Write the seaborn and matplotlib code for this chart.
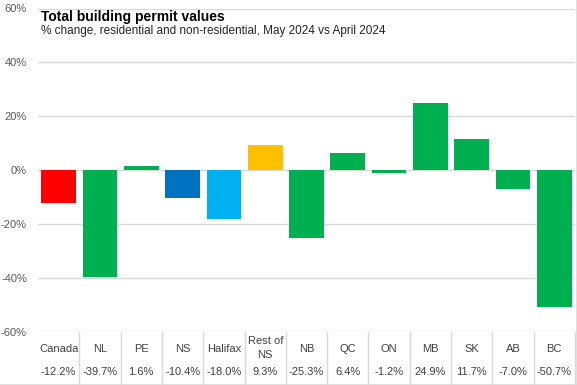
import matplotlib
matplotlib.use("Agg")
import matplotlib.pyplot as plt
import matplotlib.transforms as mtransforms
from matplotlib.lines import Line2D
from matplotlib.ticker import FuncFormatter
import seaborn as sns
import pandas as pd

categories = ["Canada", "NL", "PE", "NS", "Halifax", "Rest of\nNS", "NB", "QC", "ON", "MB", "SK", "AB", "BC"]
values = [-12.2, -39.7, 1.6, -10.4, -18.0, 9.3, -25.3, 6.4, -1.2, 24.9, 11.7, -7.0, -50.7]
value_labels = ["-12.2%", "-39.7%", "1.6%", "-10.4%", "-18.0%", "9.3%", "-25.3%", "6.4%", "-1.2%", "24.9%", "11.7%", "-7.0%", "-50.7%"]
bar_colors = ["#FF0000", "#00B050", "#00B050", "#0070C0", "#00B0F0", "#FFC000", "#00B050",
              "#00B050", "#00B050", "#00B050", "#00B050", "#00B050", "#00B050"]
y_ticks = [-60, -40, -20, 0, 20, 40, 60]

title = "Total building permit values"
subtitle = "% change, residential and non-residential, May 2024 vs April 2024"

sns.set_theme(style="white")
plt.rcParams["font.family"] = ["Liberation Sans", "DejaVu Sans"]

W, H = 577, 385
fig = plt.figure(figsize=(W / 100, H / 100), dpi=100)
ax = fig.add_axes([38 / W, (H - 332) / H, 537 / W, (332 - 8.5) / H])

df = pd.DataFrame({"cat": categories, "val": values})
sns.barplot(data=df, x="cat", y="val", hue="cat", palette=bar_colors, legend=False,
            width=0.84, saturation=1, ax=ax, edgecolor="none", linewidth=0)

ax.set_xlim(-0.5, len(categories) - 0.5)
ax.set_ylim(-60, 60)
ax.set_yticks(y_ticks)
ax.yaxis.set_major_formatter(FuncFormatter(lambda v, p: f"{int(v)}%"))
ax.tick_params(axis="y", length=0, pad=8, labelsize=8, labelcolor="#595959")
ax.set_xticks([])
ax.set_xlabel("")
ax.set_ylabel("")
ax.yaxis.grid(True, color="#D9D9D9", linewidth=1)
ax.set_axisbelow(True)
for s in ax.spines.values():
    s.set_visible(False)

# Title and subtitle
fig.text(41 / W, 1 - 21 / H, title, fontsize=10, fontweight="bold", color="#000000", va="baseline", ha="left")
fig.text(41 / W, 1 - 34 / H, subtitle, fontsize=8.5, color="#262626", va="baseline", ha="left")

# Table below the axes
trans = mtransforms.blended_transform_factory(ax.transData, fig.transFigure)
for i, (c, v) in enumerate(zip(categories, value_labels)):
    ax.text(i, 1 - 348.5 / H, c, transform=trans, ha="center", va="center", fontsize=8,
            color="#404040", linespacing=1.5)
    ax.text(i, 1 - 372 / H, v, transform=trans, ha="center", va="center", fontsize=8,
            color="#404040")
for i in range(len(categories)):
    fig.add_artist(Line2D([i + 0.5, i + 0.5], [1 - 332 / H, 1 - 384 / H], transform=trans,
                          color="#D9D9D9", linewidth=1))

# Chart border
fig.add_artist(Line2D([0, 1], [1 - 384.5 / H, 1 - 384.5 / H], transform=fig.transFigure, color="#D9D9D9", linewidth=1.2))
fig.add_artist(Line2D([576.5 / W, 576.5 / W], [0, 1], transform=fig.transFigure, color="#D9D9D9", linewidth=1.2))

fig.savefig("out.png", dpi=100)
